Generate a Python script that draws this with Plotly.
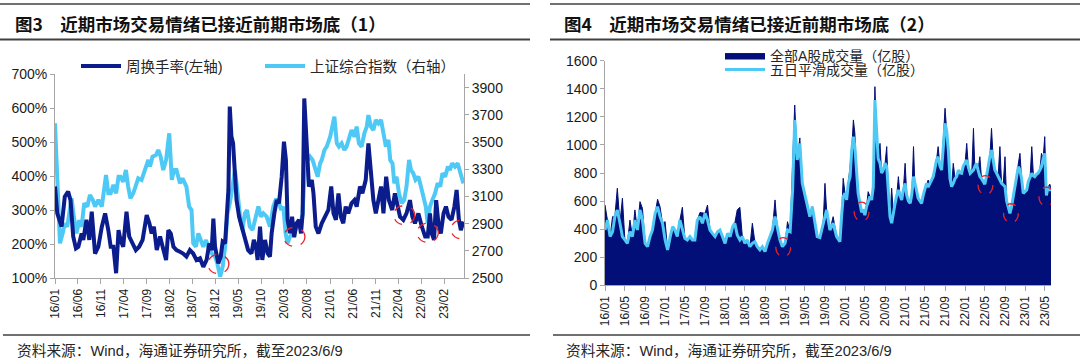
import plotly.graph_objects as go
import pandas as pd

# ---------------- Left chart: weekly turnover (%) and SSE composite ----------------
turnover_dates = [
    "2016-01-01","2016-01-16","2016-02-14","2016-03-06","2016-03-28","2016-04-13","2016-05-01","2016-05-19",
    "2016-06-04","2016-06-26","2016-07-07","2016-07-28","2016-08-16","2016-09-01","2016-09-23","2016-10-15",
    "2016-11-07","2016-11-29","2016-12-20","2017-01-05","2017-01-23","2017-02-10","2017-02-26","2017-03-11",
    "2017-03-29","2017-04-20","2017-05-08","2017-05-30","2017-06-21","2017-07-13","2017-08-05","2017-09-01",
    "2017-09-19","2017-10-04","2017-10-19","2017-11-07","2017-11-29","2017-12-16","2018-01-08","2018-01-23",
    "2018-02-08","2018-02-26","2018-03-18","2018-04-10","2018-05-01","2018-05-23","2018-06-15","2018-07-07",
    "2018-07-29","2018-08-21","2018-09-12","2018-10-04","2018-10-22","2018-11-07","2018-11-18","2018-11-29",
    "2018-12-21","2019-01-06","2019-01-19","2019-02-04","2019-02-15","2019-02-26","2019-03-07","2019-03-18",
    "2019-03-29","2019-04-10","2019-04-21","2019-05-08","2019-05-24","2019-06-15","2019-07-07","2019-07-29",
    "2019-08-14","2019-08-28","2019-09-08","2019-09-24","2019-10-09","2019-10-27","2019-11-14","2019-11-29",
    "2019-12-10","2019-12-28","2020-01-13","2020-01-28","2020-02-15","2020-03-01","2020-03-14","2020-03-25",
    "2020-04-10","2020-04-24","2020-05-08","2020-05-24","2020-06-09","2020-06-22","2020-07-03","2020-07-14",
    "2020-07-29","2020-08-14","2020-09-02","2020-09-13","2020-09-28","2020-10-16","2020-11-07","2020-11-29",
    "2020-12-21","2021-01-09","2021-01-24","2021-02-09","2021-02-26","2021-03-14","2021-03-30","2021-04-15",
    "2021-05-02","2021-05-24","2021-06-12","2021-06-27","2021-07-19","2021-08-04","2021-08-26","2021-09-13",
    "2021-09-30","2021-10-16","2021-11-01","2021-11-19","2021-12-06","2021-12-22","2022-01-09","2022-01-27",
    "2022-02-18","2022-03-08","2022-03-26","2022-04-11","2022-05-03","2022-05-24","2022-06-16","2022-07-02",
    "2022-07-19","2022-08-11","2022-09-03","2022-09-25","2022-10-12","2022-10-27","2022-11-08","2022-11-23",
    "2022-12-07","2022-12-22","2023-01-07","2023-01-25","2023-02-10","2023-02-27","2023-03-19","2023-04-07",
    "2023-04-22","2023-05-07","2023-05-20","2023-06-06",
]
turnover_pct = [
    369, 290, 251, 339, 354, 329, 222, 187,
    192, 231, 212, 271, 212, 295, 172, 192,
    251, 290, 241, 192, 192, 114, 241, 212,
    192, 295, 222, 202, 182, 192, 212, 285,
    261, 231, 251, 182, 222, 192, 153, 241,
    231, 192, 182, 177, 172, 163, 182, 172,
    153, 158, 133, 153, 202, 182, 275, 192,
    143, 163, 207, 202, 271, 359, 604, 516,
    496, 398, 329, 280, 251, 222, 182, 172,
    212, 192, 153, 251, 153, 212, 172, 163,
    231, 290, 329, 320, 398, 501, 447, 271,
    232, 280, 220, 261, 271, 231, 290, 628,
    486, 369, 388, 349, 251, 231, 261, 280,
    300, 369, 290, 271, 349, 280, 261, 310,
    290, 320, 329, 310, 369, 349, 388, 496,
    418, 329, 290, 329, 369, 290, 398, 329,
    300, 349, 310, 280, 271, 290, 329, 280,
    261, 290, 251, 222, 222, 290, 231, 212,
    329, 261, 231, 290, 310, 280, 271, 310,
    359, 271, 241, 266,
]

sse_dates = [
    "2016-01-01","2016-01-12","2016-01-23","2016-02-03","2016-02-21","2016-03-06","2016-03-22","2016-04-05",
    "2016-04-20","2016-05-05","2016-05-23","2016-06-10","2016-06-26","2016-07-13","2016-08-03","2016-08-20",
    "2016-09-08","2016-09-23","2016-10-15","2016-11-07","2016-11-22","2016-12-05","2016-12-20","2017-01-05",
    "2017-01-23","2017-02-10","2017-02-26","2017-03-11","2017-03-29","2017-04-16","2017-05-01","2017-05-16",
    "2017-06-04","2017-06-21","2017-07-07","2017-07-29","2017-08-20","2017-09-12","2017-09-23","2017-10-10",
    "2017-11-02","2017-11-17","2017-12-03","2017-12-20","2018-01-08","2018-01-29","2018-02-15","2018-03-01",
    "2018-03-18","2018-04-10","2018-04-27","2018-05-12","2018-05-23","2018-06-10","2018-06-26","2018-07-07",
    "2018-07-25","2018-08-10","2018-08-25","2018-09-12","2018-09-30","2018-10-15","2018-11-07","2018-11-29",
    "2018-12-14","2019-01-02","2019-01-19","2019-02-04","2019-02-20","2019-03-07","2019-03-25","2019-04-10",
    "2019-04-21","2019-05-02","2019-05-17","2019-05-30","2019-06-15","2019-06-30","2019-07-18","2019-08-05",
    "2019-08-21","2019-09-13","2019-09-30","2019-10-16","2019-11-07","2019-11-29","2019-12-21","2020-01-06",
    "2020-01-24","2020-02-11","2020-02-26","2020-03-12","2020-03-25","2020-04-10","2020-04-25","2020-05-13",
    "2020-05-30","2020-06-16","2020-07-01","2020-07-14","2020-07-23","2020-08-06","2020-08-21","2020-09-07",
    "2020-09-24","2020-10-11","2020-10-27","2020-11-07","2020-11-25","2020-12-10","2021-01-02","2021-01-17",
    "2021-01-30","2021-02-15","2021-03-01","2021-03-19","2021-04-06","2021-04-21","2021-05-07","2021-05-24",
    "2021-06-12","2021-06-27","2021-07-12","2021-07-30","2021-08-17","2021-09-02","2021-09-13","2021-09-30",
    "2021-10-16","2021-11-01","2021-11-19","2021-12-06","2021-12-22","2022-01-07","2022-01-24","2022-02-05",
    "2022-02-20","2022-03-04","2022-03-19","2022-04-04","2022-04-22","2022-05-09","2022-05-24","2022-06-10",
    "2022-06-23","2022-07-08","2022-07-23","2022-08-11","2022-08-28","2022-09-14","2022-09-29","2022-10-12",
    "2022-10-27","2022-11-12","2022-11-30","2022-12-17","2023-01-03","2023-01-18","2023-02-05","2023-02-23",
    "2023-03-08","2023-03-23","2023-04-11","2023-04-29","2023-05-14","2023-06-06",
]
sse_index = [
    3637, 3368, 2951, 2755, 2828, 2902, 2877, 2975,
    3086, 2951, 2828, 2926, 2877, 3049, 3025, 3110,
    3074, 3025, 3074, 3025, 3172, 3257, 3123, 3123,
    3184, 3123, 3245, 3245, 3208, 3294, 3172, 3086,
    3123, 3172, 3233, 3221, 3294, 3368, 3319, 3392,
    3404, 3441, 3392, 3294, 3368, 3564, 3221, 3294,
    3294, 3196, 3233, 3196, 3172, 3025, 3000, 2755,
    2730, 2828, 2779, 2730, 2779, 2730, 2681, 2657,
    2608, 2510, 2583, 2730, 2975, 3049, 3172, 3294,
    3196, 3074, 2926, 2853, 2975, 3000, 2877, 2853,
    2926, 3025, 2951, 2975, 2951, 2877, 3025, 3074,
    3074, 3000, 3025, 2828, 2755, 2804, 2828, 2853,
    2877, 2902, 2951, 3294, 3392, 3368, 3392, 3368,
    3294, 3245, 3343, 3368, 3441, 3466, 3539, 3613,
    3686, 3490, 3466, 3490, 3441, 3466, 3515, 3588,
    3539, 3613, 3490, 3466, 3564, 3613, 3698, 3613,
    3588, 3662, 3637, 3662, 3564, 3466, 3515, 3368,
    3343, 3196, 3245, 3123, 3049, 3074, 3172, 3368,
    3294, 3270, 3221, 3245, 3172, 3074, 3025, 2902,
    3025, 3074, 3123, 3196, 3172, 3270, 3245, 3319,
    3294, 3343, 3319, 3343, 3294, 3196,
]

left_ticks = ["2016-01-01","2016-06-01","2016-11-01","2017-04-01","2017-09-01","2018-02-01",
              "2018-07-01","2018-12-01","2019-05-01","2019-10-01","2020-03-01","2020-08-01",
              "2021-01-01","2021-06-01","2021-11-01","2022-04-01","2022-09-01","2023-02-01"]
left_ticktext = ["16/01","16/06","16/11","17/04","17/09","18/02","18/07","18/12","19/05",
                 "19/10","20/03","20/08","21/01","21/06","21/11","22/04","22/09","23/02"]
turnover_ticks = [100, 200, 300, 400, 500, 600, 700]
turnover_ticktext = ["100%", "200%", "300%", "400%", "500%", "600%", "700%"]
sse_ticks = [2500, 2700, 2900, 3100, 3300, 3500, 3700, 3900]

# market-bottom markers (date, turnover %) on the left chart
left_bottoms = [("2018-12-21", 141), ("2020-05-09", 221), ("2022-05-09", 285),
                ("2022-10-12", 233), ("2023-05-25", 243)]

# ---------------- Right chart: A-share volume (100m shares) ----------------
vol_dates = [
    "2016-01-01","2016-01-16","2016-02-01","2016-02-16","2016-03-01","2016-03-16","2016-04-01","2016-04-16",
    "2016-05-01","2016-05-16","2016-06-01","2016-06-16","2016-07-01","2016-07-16","2016-08-01","2016-08-16",
    "2016-09-01","2016-09-16","2016-10-01","2016-10-16","2016-11-01","2016-11-16","2016-12-01","2016-12-16",
    "2017-01-01","2017-01-16","2017-02-01","2017-02-16","2017-03-01","2017-03-16","2017-04-01","2017-04-16",
    "2017-05-01","2017-05-16","2017-06-01","2017-06-16","2017-07-01","2017-07-16","2017-08-01","2017-08-16",
    "2017-09-01","2017-09-16","2017-10-01","2017-10-16","2017-11-01","2017-11-16","2017-12-01","2017-12-16",
    "2018-01-01","2018-01-16","2018-02-01","2018-02-16","2018-03-01","2018-03-16","2018-04-01","2018-04-16",
    "2018-05-01","2018-05-16","2018-06-01","2018-06-16","2018-07-01","2018-07-16","2018-08-01","2018-08-16",
    "2018-09-01","2018-09-16","2018-10-01","2018-10-16","2018-11-01","2018-11-16","2018-12-01","2018-12-16",
    "2019-01-01","2019-01-16","2019-02-01","2019-02-16","2019-03-01","2019-03-16","2019-04-01","2019-04-16",
    "2019-05-01","2019-05-16","2019-06-01","2019-06-16","2019-07-01","2019-07-16","2019-08-01","2019-08-21",
    "2019-09-01","2019-09-11","2019-10-01","2019-10-21","2019-11-11","2019-12-01","2019-12-11","2019-12-21",
    "2020-01-01","2020-01-11","2020-01-21","2020-02-01","2020-02-11","2020-02-21","2020-03-01","2020-03-11",
    "2020-03-21","2020-04-01","2020-04-11","2020-04-21","2020-05-01","2020-05-11","2020-05-21","2020-06-01",
    "2020-06-11","2020-06-21","2020-07-01","2020-07-11","2020-07-21","2020-08-01","2020-08-11","2020-08-21",
    "2020-09-01","2020-09-11","2020-09-21","2020-10-01","2020-10-11","2020-10-21","2020-11-01","2020-11-11",
    "2020-11-21","2020-12-01","2020-12-11","2020-12-21","2021-01-01","2021-01-11","2021-01-21","2021-02-01",
    "2021-02-11","2021-02-21","2021-03-01","2021-03-11","2021-03-21","2021-04-01","2021-04-11","2021-04-21",
    "2021-05-01","2021-05-11","2021-05-21","2021-06-01","2021-06-11","2021-06-21","2021-07-01","2021-07-11",
    "2021-07-21","2021-08-01","2021-08-11","2021-08-21","2021-09-01","2021-09-11","2021-09-21","2021-10-01",
    "2021-10-11","2021-10-21","2021-11-01","2021-11-11","2021-11-21","2021-12-01","2021-12-11","2021-12-21",
    "2022-01-01","2022-01-11","2022-01-21","2022-02-01","2022-02-11","2022-02-21","2022-03-01","2022-03-11",
    "2022-03-21","2022-04-01","2022-04-11","2022-04-21","2022-05-01","2022-05-11","2022-05-21","2022-06-01",
    "2022-06-11","2022-06-21","2022-07-01","2022-07-11","2022-07-21","2022-08-01","2022-08-11","2022-08-21",
    "2022-09-01","2022-09-11","2022-09-21","2022-10-01","2022-10-11","2022-10-21","2022-11-01","2022-11-11",
    "2022-11-21","2022-12-01","2022-12-11","2022-12-21","2023-01-01","2023-01-11","2023-01-21","2023-02-01",
    "2023-02-11","2023-02-21","2023-03-01","2023-03-11","2023-03-21","2023-04-01","2023-04-11","2023-04-21",
    "2023-05-01","2023-05-11","2023-05-21","2023-06-01","2023-06-09",
]
ma5_volume = [
    394, 465, 347, 382, 489, 537, 442, 347,
    323, 299, 382, 347, 465, 394, 537, 465,
    299, 275, 347, 394, 513, 560, 489, 442,
    323, 252, 347, 418, 394, 347, 465, 394,
    335, 323, 347, 323, 323, 465, 489, 442,
    513, 465, 394, 370, 347, 382, 394, 347,
    299, 370, 347, 418, 442, 358, 323, 347,
    299, 323, 275, 299, 311, 275, 252, 275,
    240, 299, 347, 394, 489, 394, 323, 275,
    299, 394, 382, 679, 1178, 893, 1011, 726,
    655, 584, 489, 560, 442, 347, 340, 442,
    500, 537, 394, 442, 347, 311, 489, 632,
    655, 608, 726, 774, 964, 1059, 988, 774,
    655, 584, 520, 540, 500, 560, 600, 632,
    608, 700, 1320, 1050, 900, 870, 800, 821,
    870, 845, 650, 489, 442, 520, 584, 640,
    679, 640, 608, 680, 726, 640, 600, 584,
    650, 774, 720, 679, 620, 600, 584, 640,
    679, 726, 700, 726, 750, 774, 830, 893,
    916, 850, 821, 1000, 1154, 1100, 964, 760,
    703, 726, 760, 774, 821, 800, 798, 850,
    869, 893, 840, 798, 810, 821, 845, 869,
    820, 774, 760, 738, 720, 774, 850, 916,
    964, 900, 821, 800, 774, 750, 726, 715,
    703, 600, 560, 513, 560, 632, 726, 800,
    845, 821, 760, 655, 670, 679, 740, 774,
    798, 780, 774, 790, 798, 820, 845, 900,
    940, 640, 700, 680, 680,
]
daily_volume = [
    572, 465, 347, 489, 489, 691, 442, 620,
    323, 299, 465, 347, 537, 394, 596, 548,
    299, 275, 347, 394, 513, 613, 560, 442,
    453, 252, 347, 418, 394, 347, 465, 556,
    335, 323, 347, 323, 323, 465, 518, 513,
    513, 572, 394, 370, 347, 382, 394, 347,
    299, 370, 347, 418, 442, 537, 556, 347,
    299, 323, 275, 442, 311, 275, 252, 275,
    240, 299, 347, 394, 608, 394, 323, 275,
    299, 453, 382, 800, 1284, 893, 1050, 738,
    655, 584, 489, 560, 442, 347, 340, 442,
    726, 537, 394, 489, 347, 311, 489, 762,
    655, 608, 726, 869, 964, 1178, 1083, 774,
    655, 584, 520, 540, 500, 560, 667, 632,
    608, 700, 1415, 1050, 900, 1011, 800, 821,
    870, 988, 650, 489, 691, 520, 584, 640,
    774, 640, 608, 680, 869, 640, 600, 584,
    650, 988, 720, 679, 620, 600, 584, 640,
    679, 726, 750, 726, 750, 774, 830, 893,
    988, 850, 821, 1000, 1261, 1100, 964, 760,
    703, 869, 760, 774, 821, 800, 798, 850,
    869, 1011, 840, 798, 810, 1118, 845, 869,
    820, 916, 760, 738, 720, 774, 850, 916,
    1118, 900, 821, 800, 774, 988, 726, 715,
    916, 600, 560, 513, 560, 632, 726, 800,
    845, 940, 760, 655, 670, 679, 740, 774,
    988, 780, 774, 790, 798, 820, 940, 900,
    1059, 640, 700, 720, 680,
]

right_ticks = ["2016-01-01","2016-05-01","2016-09-01","2017-01-01","2017-05-01","2017-09-01",
               "2018-01-01","2018-05-01","2018-09-01","2019-01-01","2019-05-01","2019-09-01",
               "2020-01-01","2020-05-01","2020-09-01","2021-01-01","2021-05-01","2021-09-01",
               "2022-01-01","2022-05-01","2022-09-01","2023-01-01","2023-05-01"]
right_ticktext = ["16/01","16/05","16/09","17/01","17/05","17/09","18/01","18/05","18/09",
                  "19/01","19/05","19/09","20/01","20/05","20/09","21/01","21/05","21/09",
                  "22/01","22/05","22/09","23/01","23/05"]

right_bottoms = [("2018-12-21", 271), ("2020-04-11", 524), ("2022-05-05", 714),
                 ("2022-10-07", 513), ("2023-05-11", 631)]

# ---------------- styling ----------------
W, H = 1080, 359
NAVY = "#0b1c8c"
AREA = "#020f78"
LIGHT = "#4ec9f5"
AXIS_LINE = "#a6a6a6"
TXT = "#1a1a1a"
LAT = "Liberation Sans, Arial, Noto Sans CJK SC, sans-serif"
CJK = "Liberation Sans, Noto Sans CJK SC, sans-serif"


def px_x(p):
    return p / W


def px_y(p):
    return 1 - p / H


fig = go.Figure()

# left chart (SSE on base axis y, turnover on overlaying y2 so it is drawn on top)
fig.add_trace(go.Scatter(
    x=sse_dates, y=sse_index, name="上证综合指数（右轴）", mode="lines",
    line=dict(color=LIGHT, width=4), xaxis="x", yaxis="y", legend="legend2"))
fig.add_trace(go.Scatter(
    x=turnover_dates, y=turnover_pct, name="周换手率(左轴)", mode="lines",
    line=dict(color=NAVY, width=4), xaxis="x", yaxis="y2", legend="legend"))

# right chart
fig.add_trace(go.Scatter(
    x=vol_dates, y=daily_volume, name="全部A股成交量（亿股）", mode="lines",
    line=dict(color=AREA, width=1), fill="tozeroy", fillcolor=AREA,
    xaxis="x2", yaxis="y3", legend="legend3"))
fig.add_trace(go.Scatter(
    x=vol_dates, y=ma5_volume, name="五日平滑成交量（亿股）", mode="lines",
    line=dict(color=LIGHT, width=3), xaxis="x2", yaxis="y3", legend="legend4"))

left_dom_x = [px_x(55), px_x(464)]
left_dom_y = [px_y(278), px_y(74)]
right_dom_x = [px_x(605), px_x(1051)]
right_dom_y = [px_y(285.3), px_y(60.7)]

xcommon = dict(type="date", showgrid=False, zeroline=False, showline=True, linecolor=AXIS_LINE,
               linewidth=1, ticks="outside", ticklen=5, tickcolor=AXIS_LINE, tickangle=-90,
               tickfont=dict(family=LAT, size=12, color=TXT), fixedrange=True, automargin=False)
ycommon = dict(showgrid=False, zeroline=False, showline=True, linecolor=AXIS_LINE, linewidth=1,
               ticks="outside", ticklen=4, tickcolor=AXIS_LINE,
               tickfont=dict(family=LAT, size=14, color=TXT), fixedrange=True, automargin=False)

legend_common = dict(bgcolor="rgba(0,0,0,0)", borderwidth=0, xanchor="left", yanchor="middle",
                     itemwidth=40, tracegroupgap=0)

fig.update_layout(
    template="none",
    width=W, height=H, margin=dict(l=0, r=0, t=0, b=0, pad=0, autoexpand=False),
    paper_bgcolor="white", plot_bgcolor="white", showlegend=True,
    xaxis=dict(xcommon, domain=left_dom_x, anchor="y", range=["2016-01-01", "2023-06-10"],
               tickvals=left_ticks, ticktext=left_ticktext),
    yaxis=dict(ycommon, domain=left_dom_y, anchor="x", side="right", range=[2500, 4000],
               tickvals=sse_ticks),
    yaxis2=dict(ycommon, domain=left_dom_y, anchor="x", side="left", overlaying="y",
                range=[100, 700], tickvals=turnover_ticks, ticktext=turnover_ticktext),
    xaxis2=dict(xcommon, domain=right_dom_x, anchor="y3", range=["2016-01-01", "2023-06-08"],
                tickvals=right_ticks, ticktext=right_ticktext),
    yaxis3=dict(ycommon, domain=right_dom_y, anchor="x2", range=[0, 1600], dtick=200),
    legend=dict(legend_common, x=px_x(76), y=px_y(66),
                font=dict(family=CJK, size=14.5, color="#262626")),
    legend2=dict(legend_common, x=px_x(260), y=px_y(66),
                 font=dict(family=CJK, size=14.5, color="#262626")),
    legend3=dict(legend_common, x=px_x(720), y=px_y(56),
                 font=dict(family=CJK, size=14, color="#262626")),
    legend4=dict(legend_common, x=px_x(720), y=px_y(70),
                 font=dict(family=CJK, size=14, color="#262626")),
)

shapes = []
# header / footer rules
for x0, x1 in [(0, 530), (550, 1080)]:
    shapes.append(dict(type="line", xref="paper", yref="paper", x0=px_x(x0), x1=px_x(x1),
                       y0=px_y(4), y1=px_y(4), line=dict(color="#404040", width=1.3)))
    shapes.append(dict(type="line", xref="paper", yref="paper", x0=px_x(x0), x1=px_x(x1),
                       y0=px_y(39.5), y1=px_y(39.5), line=dict(color="#404040", width=2)))
    shapes.append(dict(type="line", xref="paper", yref="paper", x0=px_x(x0 + 3), x1=px_x(x1),
                       y0=px_y(335), y1=px_y(335), line=dict(color="#404040", width=1.5)))

# red dashed ellipses marking market bottoms
for d, v in left_bottoms:
    c = pd.Timestamp(d)
    shapes.append(dict(type="circle", xref="x", yref="y2",
                       x0=(c - pd.Timedelta(days=70)).strftime("%Y-%m-%d"),
                       x1=(c + pd.Timedelta(days=70)).strftime("%Y-%m-%d"),
                       y0=v - 28, y1=v + 28, line=dict(color="#e8202a", width=1.3, dash="dash")))
for d, v in right_bottoms:
    c = pd.Timestamp(d)
    shapes.append(dict(type="circle", xref="x2", yref="y3",
                       x0=(c - pd.Timedelta(days=45)).strftime("%Y-%m-%d"),
                       x1=(c + pd.Timedelta(days=45)).strftime("%Y-%m-%d"),
                       y0=v - 68, y1=v + 68, line=dict(color="#e8202a", width=1.3, dash="dash")))
fig.update_layout(shapes=shapes)

annotations = [
    dict(text="<b>图3\u3000近期市场交易情绪已接近前期市场底（1）</b>", x=px_x(13), y=px_y(23)),
    dict(text="<b>图4\u3000近期市场交易情绪已接近前期市场底（2）</b>", x=px_x(562), y=px_y(23)),
    dict(text="资料来源：Wind，海通证券研究所，截至2023/6/9", x=px_x(15), y=px_y(351),
         font=dict(family=CJK, size=14.7, color="#262626")),
    dict(text="资料来源：Wind，海通证券研究所，截至2023/6/9", x=px_x(564), y=px_y(351),
         font=dict(family=CJK, size=14.7, color="#262626")),
]
for a in annotations:
    a.setdefault("font", dict(family="Noto Sans CJK SC, sans-serif", size=17.5, color="#111111"))
    a.update(xref="paper", yref="paper", xanchor="left", yanchor="middle", showarrow=False)
fig.update_layout(annotations=annotations)

# remove the browser's default 8px page margin so the figure sits at the window origin
fig.write_html(
    "out.html",
    config={"displayModeBar": False, "staticPlot": False},
    post_script="document.body.style.margin='0';document.body.style.overflow='hidden';"
                "document.documentElement.style.overflow='hidden';",
)
